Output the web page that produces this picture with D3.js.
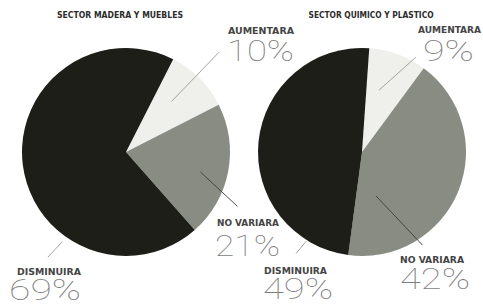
<!DOCTYPE html>
<html>
<head>
<meta charset="utf-8">
<script src="https://cdn.jsdelivr.net/npm/d3@7"></script>
<style>
  body { margin: 0; background: #fff; }
  svg { display: block; }
</style>
</head>
<body>
<div id="chart"></div>
<script>
// values
const sectors = ['SECTOR MADERA Y MUEBLES', 'SECTOR QUIMICO Y PLASTICO'];
const categories = ['AUMENTARA', 'NO VARIARA', 'DISMINUIRA'];
const madera = [10, 21, 69];
const quimico = [9, 42, 49];

// layout
const width = 483, height = 306;
const radius = 104;
const colors = ['#efefec', '#898c83', '#1c1e17'];

// one entry per pie: centre, start angle (deg), title pos, and where each label goes
const pies = [
  {
    values: madera, cx: 126, cy: 152, start: 27, titleX: 120, titleW: 126,
    labels: [
      { x: 228, y: 34, w: 66, bx: 227, by: 61, bw: 67, line: [[42, 68], [43, 137]] },
      { x: 217, y: 226, w: 62, bx: 215, by: 256, bw: 65, line: [[105, 77], [116, 124]] },
      { x: 17, y: 275, w: 64, bx: 9, by: 300, bw: 72, line: [[215.4, 110], [216.6, 131]] }
    ]
  },
  {
    values: quimico, cx: 362, cy: 152, start: 4, titleX: 371, titleW: 125,
    labels: [
      { x: 418, y: 33, w: 63, bx: 423, by: 61, bw: 51, line: [[15.3, 64], [29.6, 109]] },
      { x: 400, y: 263, w: 64, bx: 400, by: 289, bw: 70, line: [[162.4, 46], [147, 111]] },
      { x: 264, y: 274, w: 63, bx: 263, by: 299, bw: 70, line: [[212, 105], [213, 121]] }
    ]
  }
];

const rad = d => d * Math.PI / 180;

const svg = d3.select('#chart')
  .append('svg')
  .attr('width', width)
  .attr('height', height)
  .attr('viewBox', [0, 0, width, height]);

const arc = d3.arc().innerRadius(0).outerRadius(radius);

pies.forEach((p, k) => {
  const pie = d3.pie()
    .sort(null)
    .startAngle(rad(p.start))
    .endAngle(rad(p.start) + 2 * Math.PI);

  const g = svg.append('g').attr('transform', `translate(${p.cx},${p.cy})`);

  g.selectAll('path')
    .data(pie(p.values))
    .join('path')
    .attr('d', arc)
    .attr('fill', (d, i) => colors[i]);

  // leader lines, given as [angle, radius] pairs
  g.selectAll('line')
    .data(p.labels)
    .join('line')
    .attr('x1', d => Math.sin(rad(d.line[0][0])) * d.line[0][1])
    .attr('y1', d => -Math.cos(rad(d.line[0][0])) * d.line[0][1])
    .attr('x2', d => Math.sin(rad(d.line[1][0])) * d.line[1][1])
    .attr('y2', d => -Math.cos(rad(d.line[1][0])) * d.line[1][1])
    .attr('stroke', (d, i) => i === 1 ? '#3a3c36' : '#9a9a96')
    .attr('stroke-width', 0.9);

  // title
  svg.append('text')
    .attr('x', p.titleX - p.titleW / 2)
    .attr('y', 18)
    .attr('textLength', p.titleW)
    .attr('lengthAdjust', 'spacingAndGlyphs')
    .attr('font-family', 'DejaVu Sans Condensed, DejaVu Sans, sans-serif')
    .attr('font-weight', 'bold')
    .attr('font-size', 9)
    .attr('fill', '#2b2b2b')
    .text(sectors[k]);

  // small category names
  svg.selectAll(null)
    .data(p.labels)
    .join('text')
    .attr('x', d => d.x)
    .attr('y', d => d.y)
    .attr('textLength', d => d.w)
    .attr('lengthAdjust', 'spacingAndGlyphs')
    .attr('font-family', 'DejaVu Sans Condensed, DejaVu Sans, sans-serif')
    .attr('font-weight', 600)
    .attr('font-size', 9.5)
    .attr('fill', '#444')
    .text((d, i) => categories[i]);

  // big thin percentages
  svg.selectAll(null)
    .data(p.labels)
    .join('text')
    .attr('x', d => d.bx)
    .attr('y', d => d.by)
    .attr('textLength', d => d.bw)
    .attr('lengthAdjust', 'spacingAndGlyphs')
    .attr('font-family', 'Roboto, Inter, sans-serif')
    .attr('font-weight', 100)
    .attr('font-size', 29)
    .attr('fill', '#7e7e7e')
    .text((d, i) => p.values[i] + '%');
});
</script>
</body>
</html>
